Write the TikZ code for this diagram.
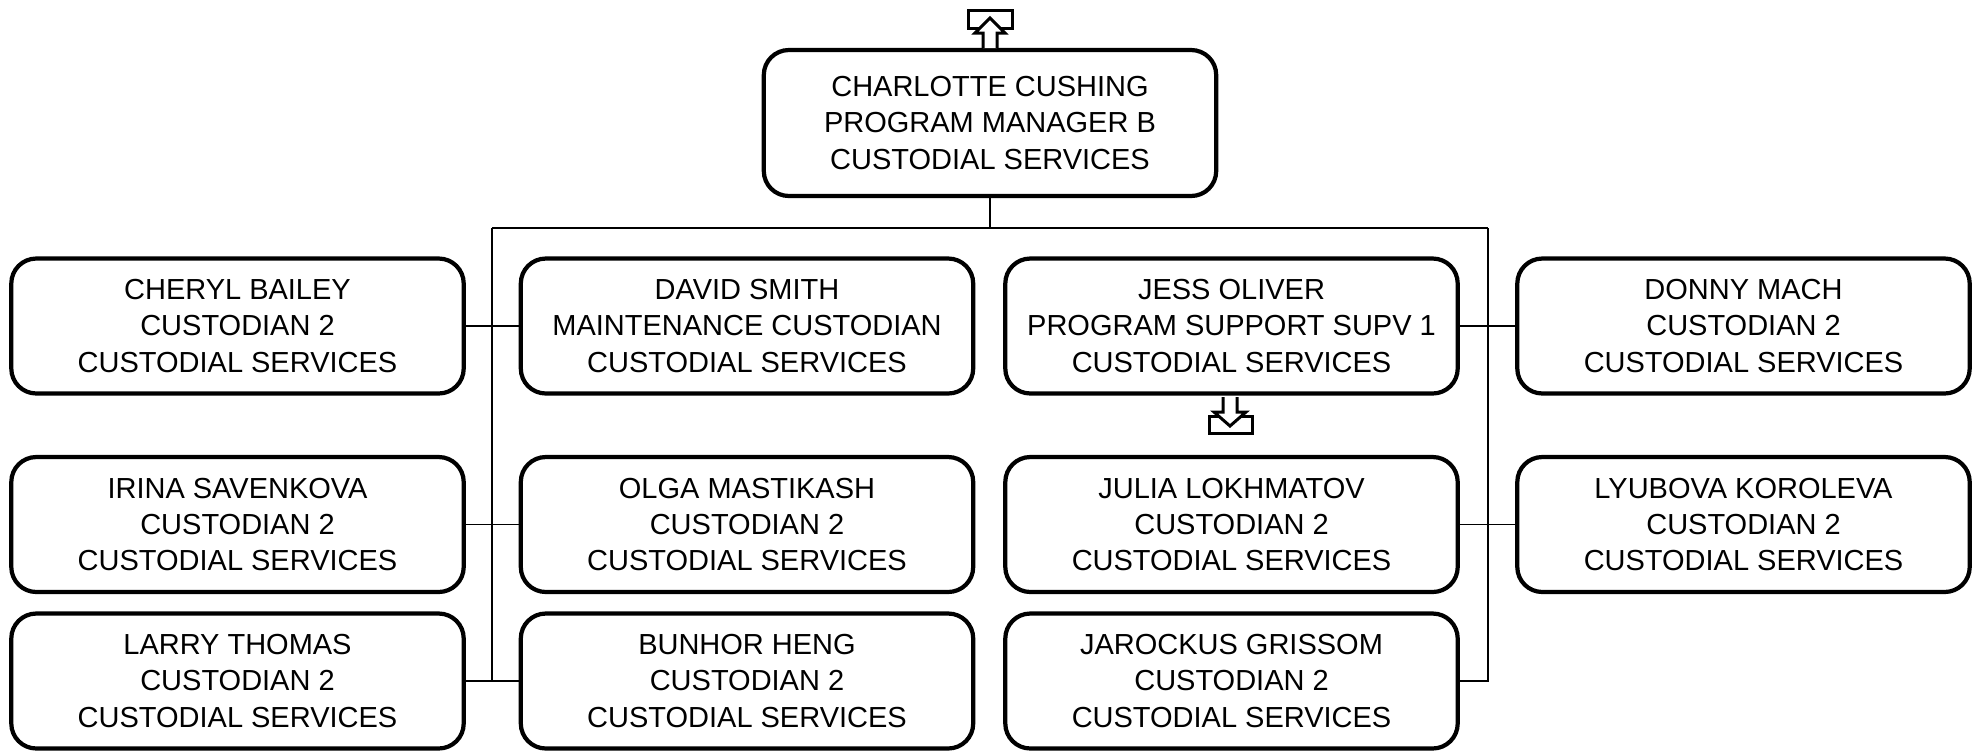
\documentclass[tikz,border=0pt]{standalone}
\usepackage{fontspec}
\setmainfont{Liberation Sans}
\usepackage{tikz}
\usetikzlibrary{positioning}
\newcommand{\CS}{CUSTODIAL SERVICES}

\begin{document}
\begin{tikzpicture}[x=0.02cm, y=-0.02cm, every node/.style={font=\fontsize{16.5}{20.5}\selectfont}, box/.style={draw, line width=2.4pt, rounded corners=0.5cm, minimum width=9.05cm, minimum height=2.7cm, inner sep=2pt, align=center}, link/.style={line width=1.1pt}, icon/.style={draw, line width=1.7pt, fill=white, line join=miter}]
\useasboundingbox (0,0) rectangle (1981,752);
\node[box, minimum height=2.92cm] (cc) at (990,123) {CHARLOTTE CUSHING\\ PROGRAM MANAGER B\\ \CS};
\node[box] (cb) at (237.5,326) {CHERYL BAILEY\\ CUSTODIAN 2\\ \CS};
\node[box] (ds) at (747,326) {DAVID SMITH\\ MAINTENANCE CUSTODIAN\\ \CS};
\node[box] (jo) at (1231.5,326) {JESS OLIVER\\ PROGRAM SUPPORT SUPV 1\\ \CS};
\node[box] (dm) at (1743.5,326) {DONNY MACH\\ CUSTODIAN 2\\ \CS};
\node[box] (is) at (237.5,524.5) {IRINA SAVENKOVA\\ CUSTODIAN 2\\ \CS};
\node[box] (om) at (747,524.5) {OLGA MASTIKASH\\ CUSTODIAN 2\\ \CS};
\node[box] (jl) at (1231.5,524.5) {JULIA LOKHMATOV\\ CUSTODIAN 2\\ \CS};
\node[box] (lk) at (1743.5,524.5) {LYUBOVA KOROLEVA\\ CUSTODIAN 2\\ \CS};
\node[box] (lt) at (237.5,681) {LARRY THOMAS\\ CUSTODIAN 2\\ \CS};
\node[box] (bh) at (747,681) {BUNHOR HENG\\ CUSTODIAN 2\\ \CS};
\node[box] (jg) at (1231.5,681) {JAROCKUS GRISSOM\\ CUSTODIAN 2\\ \CS};
\coordinate (busL) at (492,228);
\coordinate (busR) at (1488,228);
\coordinate (busM) at (cc.south |- busL);
\draw[link] (cc) -- (busM);
\draw[link] (busL) -- (busR);
\draw[link] (busL) |- (lt.east);
\draw[link] (busL |- lt.east) -- (bh.west);
\draw[link] (cb.east) -- (ds.west);
\draw[link] (is.east) -- (om.west);
\draw[link] (busR) |- (jg.east);
\draw[link] (jo.east) -- (dm.west);
\draw[link] (jl.east) -- (lk.west);
\draw[icon] (968,10) rectangle (1012,28);
\draw[icon] (983,48) -- (983,33) -- (975,33) -- (990,18) -- (1005,33) -- (997,33) -- (997,48);
\draw[icon] (1209,416) rectangle (1252,433);
\draw[icon] (1223,397) -- (1223,412) -- (1214,412) -- (1230,426) -- (1246,412) -- (1237,412) -- (1237,397);
\end{tikzpicture}
\end{document}
